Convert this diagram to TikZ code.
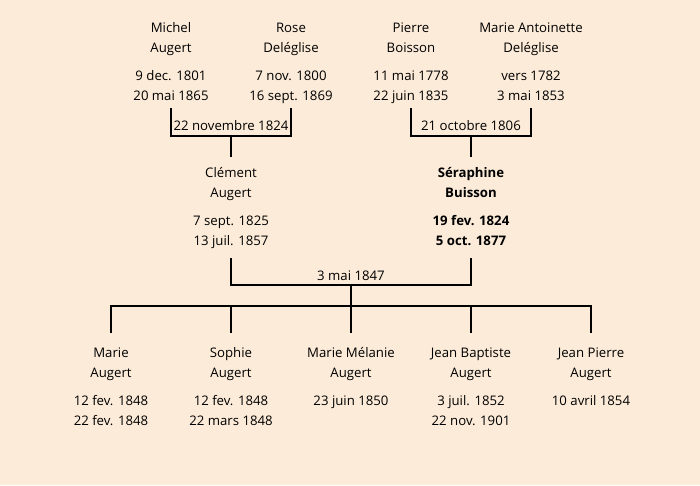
\documentclass[tikz,border=0pt]{standalone}
\usepackage{fontspec}
\setmainfont{Open Sans}
\definecolor{bg}{RGB}{252,235,216}
\begin{document}
\begin{tikzpicture}[x=1pt,y=-1pt,
  txt/.style={font=\fontsize{13.2}{20}\selectfont, align=center, inner sep=0pt},
  bold/.style={txt, font=\fontsize{13.2}{20}\selectfont\bfseries},
  link/.style={line width=2pt, black}]
\fill[bg] (0,0) rectangle (700,485);
\useasboundingbox (0,0) rectangle (700,485);
% generation 1
\node[txt] (n1) at (171,38.5) {\strut Michel\\\strut Augert};
\node[txt] (d1) at (171,86.5) {\strut 9 dec. 1801\\\strut 20 mai 1865};
\node[txt] (n2) at (291,38.5) {\strut Rose\\\strut Deléglise};
\node[txt] (d2) at (291,86.5) {\strut 7 nov. 1800\\\strut 16 sept. 1869};
\node[txt] (n3) at (411,38.5) {\strut Pierre\\\strut Boisson};
\node[txt] (d3) at (411,86.5) {\strut 11 mai 1778\\\strut 22 juin 1835};
\node[txt] (n4) at (531,38.5) {\strut Marie Antoinette\\\strut Deléglise};
\node[txt] (d4) at (531,86.5) {\strut vers 1782\\\strut 3 mai 1853};
% generation 2
\node[txt] (n5) at (231,183.5) {\strut Clément\\\strut Augert};
\node[txt] (d5) at (231,231.5) {\strut 7 sept. 1825\\\strut 13 juil. 1857};
\node[bold] (n6) at (471,183.5) {\strut Séraphine\\\strut Buisson};
\node[bold] (d6) at (471,231.5) {\strut 19 fev. 1824\\\strut 5 oct. 1877};
% generation 3
\node[txt] (c1) at (111,363.5) {\strut Marie\\\strut Augert};
\node[txt] (e1) at (111,411.5) {\strut 12 fev. 1848\\\strut 22 fev. 1848};
\node[txt] (c2) at (231,363.5) {\strut Sophie\\\strut Augert};
\node[txt] (e2) at (231,411.5) {\strut 12 fev. 1848\\\strut 22 mars 1848};
\node[txt] (c3) at (351,363.5) {\strut Marie Mélanie\\\strut Augert};
\node[txt] (e3) at (351,401.5) {\strut 23 juin 1850};
\node[txt] (c4) at (471,363.5) {\strut Jean Baptiste\\\strut Augert};
\node[txt] (e4) at (471,411.5) {\strut 3 juil. 1852\\\strut 22 nov. 1901};
\node[txt] (c5) at (591,363.5) {\strut Jean Pierre\\\strut Augert};
\node[txt] (e5) at (591,401.5) {\strut 10 avril 1854};
% marriage 1
\coordinate (a1) at (171,108); \coordinate (a2) at (291,108);
\coordinate (ab) at (231,136); \coordinate (as) at (231,157);
\draw[link] (a1) |- (ab) -| (a2);
\draw[link] (ab) -- (as);
\node[txt] (m1) at (231,126.5) {\strut 22 novembre 1824};
% marriage 2
\coordinate (b1) at (411,108); \coordinate (b2) at (531,108);
\coordinate (bb) at (471,136); \coordinate (bs) at (471,157);
\draw[link] (b1) |- (bb) -| (b2);
\draw[link] (bb) -- (bs);
\node[txt] (m2) at (471,126.5) {\strut 21 octobre 1806};
% marriage 3
\coordinate (p1) at (231,258); \coordinate (p2) at (471,258);
\coordinate (pb) at (351,285); \coordinate (pj) at (351,306);
\draw[link] (p1) |- (pb) -| (p2);
\draw[link] (pb) -- (pj);
\node[txt] (m3) at (351,276.5) {\strut 3 mai 1847};
% children
\coordinate (k1) at (111,333); \coordinate (k2) at (231,333);
\coordinate (k3) at (351,333); \coordinate (k4) at (471,333);
\coordinate (k5) at (591,333);
\draw[link] (k1) |- (pj) -| (k5);
\draw[link] (pj) -- (k3);
\draw[link] (k2 |- pj) -- (k2);
\draw[link] (k4 |- pj) -- (k4);
\end{tikzpicture}
\end{document}
